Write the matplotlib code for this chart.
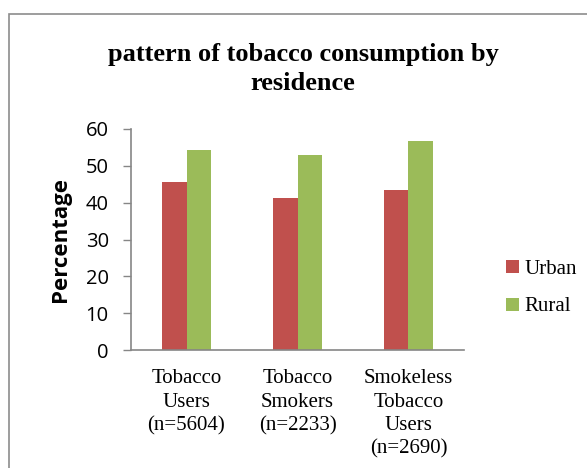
import numpy as np
import matplotlib.pyplot as plt
from matplotlib.patches import Rectangle

# residence-wise share of tobacco use
categories = ['Tobacco\nUsers\n(n=5604)', 'Tobacco\nSmokers\n(n=2233)',
              'Smokeless\nTobacco\nUsers\n(n=2690)']
urban = [45.7, 41.4, 43.5]
rural = [54.3, 52.9, 56.7]

fig = plt.figure(figsize=(5.87, 4.68), dpi=100)
ax = fig.add_axes([131 / 587, 1 - 350 / 468, 333 / 587, 221 / 468])

# outer chart frame
fig.patches.append(Rectangle((9 / 587, -0.05), 1.1, 1 - 14 / 468 + 0.05,
                             transform=fig.transFigure, fill=False,
                             edgecolor='#8c8c8c', linewidth=1.2))

x = np.arange(len(categories))
w = 0.22
ax.bar(x - w / 2, urban, w, color='#C0504D', label='Urban')
ax.bar(x + w / 2, rural, w, color='#9BBB59', label='Rural')

ax.set_xlim(-0.5, 2.5)
ax.set_ylim(0, 60)
ax.set_yticks(range(0, 61, 10))
ax.set_xticks(x)
ax.set_xticklabels(categories, family='Liberation Serif', fontsize=15,
                   linespacing=1.3)
ax.tick_params(axis='x', length=0, pad=14)
ax.tick_params(axis='y', length=6, width=1, color='#868686', labelsize=14.5, pad=10)
for t in ax.get_yticklabels():
    t.set_family('Open Sans')

for s in ['top', 'right']:
    ax.spines[s].set_visible(False)
for s in ['left', 'bottom']:
    ax.spines[s].set_color('#868686')
    ax.spines[s].set_linewidth(1.2)

ax.set_ylabel('Percentage', family='Open Sans', fontweight='bold', fontsize=16)
ax.yaxis.set_label_coords(-60 / 333, 0.5)

fig.text(303 / 587, 1 - 69 / 468, 'pattern of tobacco consumption by\nresidence',
         ha='center', va='center', family='Liberation Serif', fontweight='bold',
         fontsize=19, linespacing=1.3)

ax.legend(loc='center left', bbox_to_anchor=(1.07, 0.28), frameon=False,
          prop={'family': 'Liberation Serif', 'size': 15},
          handlelength=0.6, handleheight=0.6, handletextpad=0.3, labelspacing=0.9)

fig.savefig('out.png', dpi=100)
